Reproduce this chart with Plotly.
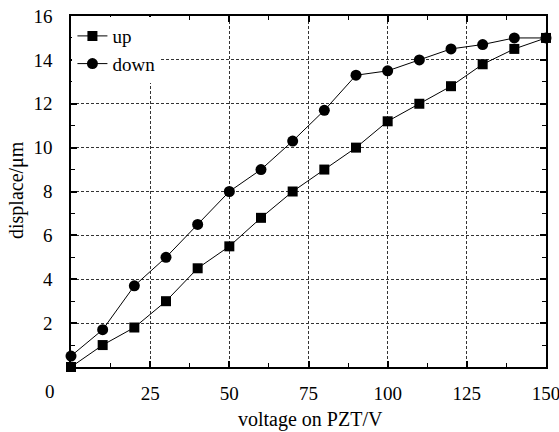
import plotly.graph_objects as go

voltage = [0, 10, 20, 30, 40, 50, 60, 70, 80, 90, 100, 110, 120, 130, 140, 150]
up = [0.0, 1.0, 1.8, 3.0, 4.5, 5.5, 6.8, 8.0, 9.0, 10.0, 11.2, 12.0, 12.8, 13.8, 14.5, 15.0]
down = [0.5, 1.7, 3.7, 5.0, 6.5, 8.0, 9.0, 10.3, 11.7, 13.3, 13.5, 14.0, 14.5, 14.7, 15.0, 15.0]
x_ticks = [25, 50, 75, 100, 125, 150]
y_ticks = [2, 4, 6, 8, 10, 12, 14, 16]
x_title = "voltage on PZT/V"
y_title = "displace/μm"

font = "Liberation Serif, Times New Roman, serif"
FS = 19
TS = 20

fig = go.Figure()
fig.add_trace(go.Scatter(x=voltage, y=up, name="up", mode="lines+markers",
                         line=dict(color="black", width=1),
                         marker=dict(symbol="square", size=10, color="black"),
                         cliponaxis=False))
fig.add_trace(go.Scatter(x=voltage, y=down, name="down", mode="lines+markers",
                         line=dict(color="black", width=1),
                         marker=dict(symbol="circle", size=11, color="black"),
                         cliponaxis=False))

axis_common = dict(showline=True, linecolor="black", linewidth=1.6, mirror="ticks",
                   ticks="inside", ticklen=6, tickwidth=1.5, tickcolor="black",
                   showgrid=True, gridcolor="#333", griddash="3px,2px", gridwidth=1,
                   zeroline=False, tickfont=dict(family=font, size=FS, color="black"),
                   automargin=False, ticklabeloverflow="allow")

fig.update_xaxes(range=[0, 150], tickvals=x_ticks, ticklabelstandoff=8,
                 minor=dict(ticks="inside", ticklen=4, tickwidth=1.2, tickcolor="black",
                            tickvals=[12.5, 37.5, 62.5, 87.5, 112.5, 137.5], showgrid=False),
                 **axis_common)
fig.update_yaxes(range=[0, 16], tickvals=y_ticks, ticklabelstandoff=13,
                 minor=dict(ticks="inside", ticklen=4, tickwidth=1.2, tickcolor="black",
                            tickvals=[1, 3, 5, 7, 9, 11, 13, 15], showgrid=False),
                 **axis_common)

L, R, T, B = 71, 13, 16, 65
pw = 559 - L - R
ph = 432 - T - B

def px(xp):
    return (xp - L) / pw

def py(yp):
    return (432 - B - yp) / ph

fig.add_annotation(text="0", x=px(50), y=py(391),
                   xref="paper", yref="paper", xanchor="center", yanchor="middle",
                   showarrow=False, font=dict(family=font, size=FS, color="black"))
fig.add_annotation(text=x_title, x=px(310), y=py(419),
                   xref="paper", yref="paper", xanchor="center", yanchor="middle",
                   showarrow=False, font=dict(family=font, size=TS, color="black"))
fig.add_annotation(text=y_title, x=px(16), y=py(190), textangle=-90,
                   xref="paper", yref="paper", xanchor="center", yanchor="middle",
                   showarrow=False, font=dict(family=font, size=TS, color="black"))

fig.update_layout(
    width=559, height=432,
    margin=dict(l=L, r=R, t=T, b=B),
    paper_bgcolor="white", plot_bgcolor="white",
    font=dict(family=font, size=FS, color="black"),
    legend=dict(x=0.003, y=0.997, xanchor="left", yanchor="top", bgcolor="white",
                borderwidth=0, font=dict(family=font, size=FS, color="black"),
                tracegroupgap=0),
    showlegend=True,
)

fig.write_html("out.html")
